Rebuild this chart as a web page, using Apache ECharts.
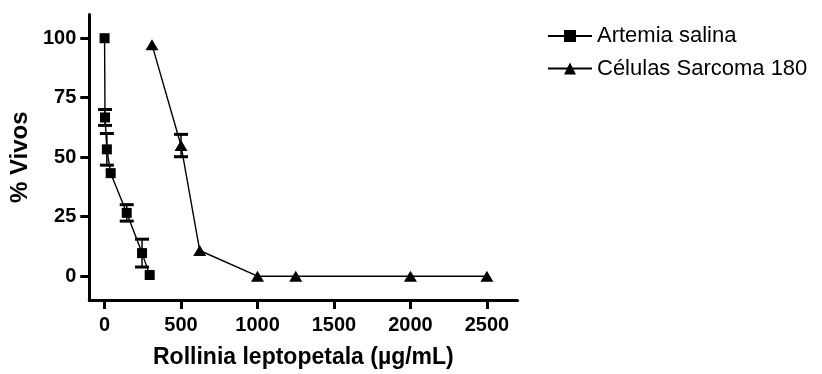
<!DOCTYPE html>
<html><head><meta charset="utf-8">
<script src="https://cdn.jsdelivr.net/npm/echarts@6/dist/echarts.min.js"></script>
<style>html,body{margin:0;padding:0;background:#fff}#c{width:822px;height:374px}</style>
</head><body><div id="c"></div>
<script>
const seriesNames = ['Artemia salina', 'Células Sarcoma 180'];
const artemiaX = [0, 3, 15, 40, 145, 245, 295];
const artemiaY = [100, 66.7, 53.3, 43.3, 26.6, 9.7, 0.5];
const artemiaErr = [0, 3.35, 6.65, 0, 3.45, 5.85, 0];
const sarcomaX = [310, 500, 622, 1000, 1250, 2000, 2500];
const sarcomaY = [97.3, 54.9, 10.8, 0, 0, 0, 0];
const sarcomaErr = [0, 4.7, 0, 0, 0, 0, 0];
const xTicks = [0, 500, 1000, 1500, 2000, 2500];
const yTicks = [0, 25, 50, 75, 100];
const xTitle = 'Rollinia leptopetala (µg/mL)';
const yTitle = '% Vivos';

const FONT = 'Liberation Sans, Arial, sans-serif';
const chart = echarts.init(document.getElementById('c'), null, {renderer: 'canvas'});

function pts(xs, ys) { return xs.map((x, i) => [x, ys[i]]); }
function errs(xs, ys, es) { return xs.map((x, i) => [x, ys[i], es[i]]); }

function errRender(params, api) {
  const x = api.value(0), y = api.value(1), e = api.value(2);
  if (!e) return null;
  const top = api.coord([x, y + e]), bot = api.coord([x, y - e]);
  const hw = 7;
  return {type: 'group', children: [
    {type: 'line', shape: {x1: top[0], y1: top[1], x2: bot[0], y2: bot[1]}, style: {stroke: '#000', lineWidth: 1.5}},
    {type: 'line', shape: {x1: top[0] - hw, y1: top[1], x2: top[0] + hw, y2: top[1]}, style: {stroke: '#000', lineWidth: 3}},
    {type: 'line', shape: {x1: bot[0] - hw, y1: bot[1], x2: bot[0] + hw, y2: bot[1]}, style: {stroke: '#000', lineWidth: 3}}
  ]};
}

const axisCommon = {
  axisLine: {show: true, onZero: false, lineStyle: {color: '#000', width: 3}},
  axisTick: {show: true, length: 9, lineStyle: {color: '#000', width: 3}},
  splitLine: {show: false},
  nameLocation: 'middle'
};

chart.setOption({
  animation: false,
  backgroundColor: '#fff',
  grid: {left: 86, right: 304.5, top: 14.4, bottom: 72.6, containLabel: false},
  legend: {
    orient: 'vertical', left: 542, top: 20, itemWidth: 44, itemHeight: 15, itemGap: 10.5,
    data: seriesNames,
    textStyle: {fontSize: 22, lineHeight: 22, color: '#000', fontFamily: FONT}
  },
  xAxis: Object.assign({}, axisCommon, {
    type: 'value', min: -100, max: 2700,
    name: xTitle, nameGap: 46,
    nameTextStyle: {color: '#000', fontWeight: 'bold', fontSize: 23, fontFamily: FONT},
    axisTick: Object.assign({}, axisCommon.axisTick, {customValues: xTicks}),
    axisLabel: {customValues: xTicks, formatter: v => String(v), margin: 15, color: '#000', fontWeight: 'bold', fontSize: 20, fontFamily: FONT}
  }),
  yAxis: Object.assign({}, axisCommon, {
    type: 'value', min: -10, max: 110,
    name: yTitle, nameGap: 47,
    nameTextStyle: {color: '#000', fontWeight: 'bold', fontSize: 24, fontFamily: FONT},
    axisTick: Object.assign({}, axisCommon.axisTick, {customValues: yTicks}),
    axisLabel: {customValues: yTicks, formatter: v => String(v), margin: 13, color: '#000', fontWeight: 'bold', fontSize: 20, fontFamily: FONT}
  }),
  series: [
    {type: 'custom', name: 'errA', renderItem: errRender, data: errs(artemiaX, artemiaY, artemiaErr), z: 1, silent: true},
    {type: 'custom', name: 'errS', renderItem: errRender, data: errs(sarcomaX, sarcomaY, sarcomaErr), z: 1, silent: true},
    {type: 'line', name: seriesNames[0], data: pts(artemiaX, artemiaY), symbol: 'rect', symbolSize: 10,
     lineStyle: {color: '#000', width: 1.4}, itemStyle: {color: '#000'}, z: 3},
    {type: 'line', name: seriesNames[1], data: pts(sarcomaX, sarcomaY), symbol: 'triangle', symbolSize: [13, 11],
     lineStyle: {color: '#000', width: 1.4}, itemStyle: {color: '#000'}, z: 3}
  ]
});
</script></body></html>
